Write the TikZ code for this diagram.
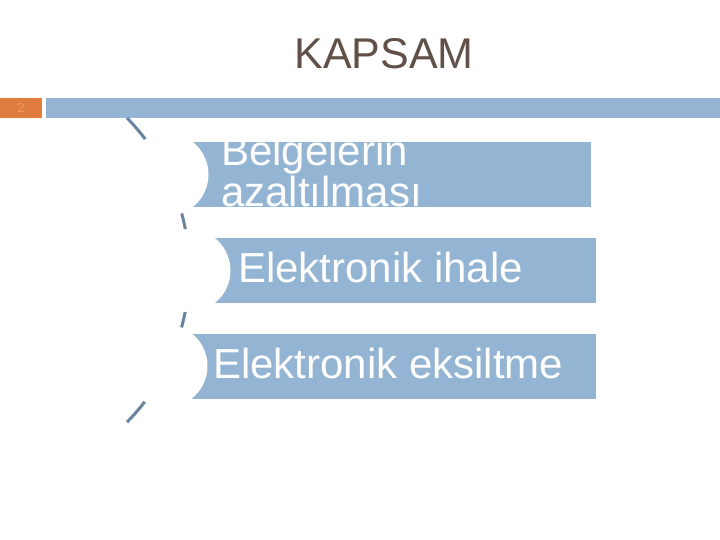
\documentclass[tikz,border=0pt]{standalone}
\usepackage{fontspec}
\setmainfont{Liberation Sans}
\usetikzlibrary{positioning}
\definecolor{barblue}{RGB}{147,180,210}
\definecolor{arcblue}{RGB}{105,132,160}
\definecolor{taborange}{RGB}{224,124,62}
\definecolor{numorange}{RGB}{240,156,104}
\definecolor{titlebrown}{RGB}{96,80,72}
\tikzset{
  x=1pt, y=-1pt, % slide pixels, y runs downwards
  every node/.style={inner sep=0pt, outer sep=0pt},
  bar/.style={fill=barblue, anchor=north west, minimum height=65pt}, % list item
  hole/.style={circle, fill=white, draw=white, line width=3pt, minimum size=80pt}, % white disc on the arc
  item/.style={text=white, font=\fontsize{42}{41}\selectfont, align=left},
  arcline/.style={draw=arcblue, line width=3pt},
}
\begin{document}
\begin{tikzpicture}
  \useasboundingbox[fill=white] (0,0) rectangle (720,540);
  % title and slide band
  \node[text=titlebrown, font=\fontsize{43}{43}\selectfont, anchor=base] (title) at (384,69) {KAPSAM};
  \node[fill=taborange, anchor=north west, minimum width=42pt, minimum height=20pt] (tab) at (0,98) {};
  \node[text=numorange, font=\fontsize{13}{13}\selectfont] (num) at (tab) {2};
  \node[fill=barblue, anchor=north west, minimum width=674pt, minimum height=20pt] (band) at (46,98) {};
  % curved spine
  \coordinate (arctop) at (127,118);
  \draw[arcline] (arctop) arc[start angle=-44.5, end angle=44.5, radius=217];
  % list bars
  \node[bar, minimum width=424pt] (bar1) at (167,142) {};
  \node[bar, minimum width=407pt] (bar2) at (189,238) {};
  \node[bar, minimum width=430pt] (bar3) at (166,334) {};
  \node[hole] (hole1) at (167,174.5) {};
  \node[hole] (hole2) at (189,270.5) {};
  \node[hole] (hole3) at (166,366) {};
  % texts
  \node[item, anchor=base west] (lbl1) at (221,207) {Belgelerin\\azaltılması};
  \node[item, anchor=base west] (lbl2) at (238,282) {Elektronik ihale};
  \node[item, anchor=base west] (lbl3) at (213,378) {Elektronik eksiltme};
\end{tikzpicture}
\end{document}
